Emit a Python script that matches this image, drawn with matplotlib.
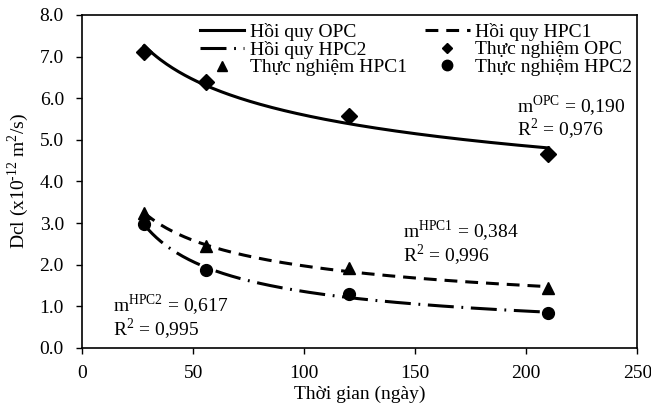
import numpy as np
import matplotlib
matplotlib.use("Agg")
from matplotlib import pyplot as plt
from matplotlib.lines import Line2D

plt.rcParams['font.family'] = ['Liberation Serif', 'DejaVu Serif']
plt.rcParams['mathtext.fontset'] = 'custom'
plt.rcParams['mathtext.rm'] = 'Liberation Serif'

# thoi gian (ngay)
days = [28, 56, 120, 210]
# Dcl measured, x1e-12 m2/s
d_opc = [7.12, 6.40, 5.58, 4.66]
d_hpc1 = [3.23, 2.44, 1.92, 1.43]
d_hpc2 = [2.98, 1.86, 1.29, 0.83]

labels_fit = ["Hồi quy OPC", "Hồi quy HPC1", "Hồi quy HPC2"]
labels_exp = ["Thực nghiệm OPC", "Thực nghiệm HPC1", "Thực nghiệm HPC2"]
m_text = ["OPC", "HPC1", "HPC2"]
m_vals = ["0,190", "0,384", "0,617"]
r2_vals = ["0,976", "0,996", "0,995"]


def power_fit(t, d):
	# regression D = a * t^-m, fitted in log space
	k, b = np.polyfit(np.log(t), np.log(d), 1)
	tt = np.linspace(t[0], t[-1], 200)
	return tt, np.exp(b) * tt ** k


FS = 14
fig = plt.figure(figsize=(6.51, 4.05), dpi=100)
ax = fig.add_axes([0.126, 0.141, 0.853, 0.822])

lw = 2.2
t, y = power_fit(days, d_opc)
l_opc, = ax.plot(t, y, color='black', lw=lw, ls='-')
t, y = power_fit(days, d_hpc1)
l_hpc1, = ax.plot(t, y, color='black', lw=lw, ls=(0, (4.2, 2.6)))
t, y = power_fit(days, d_hpc2)
l_hpc2, = ax.plot(t, y, color='black', lw=lw, ls=(0, (8.5, 2.5, 0.6, 2.5)))

ax.plot(days, d_opc, 'D', color='black', ms=8, ls='none')
ax.plot(days, d_hpc1, '^', color='black', ms=8.5, ls='none')
ax.plot(days, d_hpc2, 'o', color='black', ms=8.5, ls='none')

ax.set_xlim(0, 250)
ax.set_ylim(0, 8)
ax.set_xticks(np.arange(0, 251, 50))
ax.set_yticks(np.arange(0, 8.1, 1))
ax.set_yticklabels(["%.1f" % v for v in np.arange(0, 8.1, 1)])
ax.tick_params(labelsize=FS, direction='out', length=4, width=1)
ax.tick_params(axis='x', pad=8)
ax.tick_params(axis='y', pad=9)
for s in ax.spines.values():
	s.set_linewidth(1.2)

ax.set_xlabel("Thời gian (ngày)", fontsize=FS, labelpad=3)
ax.set_ylabel("Dcl (x10$^{\\mathregular{\\text{-}12}}$ m$^{\\mathregular{2}}$/s)", fontsize=FS, labelpad=6)

h_opc = Line2D([], [], marker='D', color='black', ms=5.5, ls='none')
h_hpc1 = Line2D([], [], marker='^', color='black', ms=7.5, ls='none')
h_hpc2 = Line2D([], [], marker='o', color='black', ms=7.5, ls='none')
handles = [l_opc, l_hpc2, h_hpc1, l_hpc1, h_opc, h_hpc2]
labs = [labels_fit[0], labels_fit[2], labels_exp[1], labels_fit[1], labels_exp[0], labels_exp[2]]
ax.legend(handles, labs, ncol=2, loc='upper left', bbox_to_anchor=(0.198, 1.0),
		  frameon=False, fontsize=FS, handlelength=2.3, columnspacing=0.9,
		  labelspacing=0.0, handletextpad=0.3, borderaxespad=0)

pos = [(196, 5.53), (144.5, 2.51), (14, 0.73)]
for (x, y), name, m, r2 in zip(pos, m_text, m_vals, r2_vals):
	txt = "m$^{\\mathregular{%s}}$ = %s\nR$^{\\mathregular{2}}$ = %s" % (name, m, r2)
	ax.text(x, y, txt, fontsize=FS, va='center', linespacing=0.9)

fig.savefig("out.png", dpi=100)
